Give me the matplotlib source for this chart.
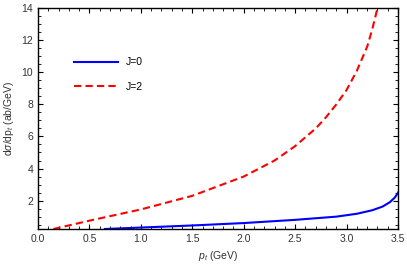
import numpy as np
import matplotlib.pyplot as plt
from matplotlib.ticker import MultipleLocator

plt.rcParams['font.family'] = ['Liberation Sans', 'DejaVu Sans']
plt.rcParams['mathtext.fontset'] = 'custom'
plt.rcParams['mathtext.it'] = 'Liberation Sans:italic'
plt.rcParams['mathtext.rm'] = 'Liberation Sans'

# J=0
pt_j0 = [0.65, 1.0, 1.5, 2.0, 2.5, 2.9, 3.1, 3.25, 3.35, 3.42, 3.47, 3.5]
ds_j0 = [0.23, 0.32, 0.45, 0.6, 0.8, 1.0, 1.18, 1.4, 1.63, 1.9, 2.2, 2.5]

# J=2
pt_j2 = [0.15, 0.5, 1.0, 1.5, 2.0, 2.3, 2.5, 2.7, 2.8, 2.9, 3.0, 3.1, 3.2, 3.25, 3.3]
ds_j2 = [0.23, 0.75, 1.45, 2.3, 3.5, 4.5, 5.4, 6.5, 7.2, 8.0, 8.9, 10.1, 11.6, 12.7, 14.0]

fig = plt.figure(figsize=(4.07, 2.71), dpi=100)
ax = fig.add_axes([0.0934, 0.155, 0.8846, 0.815])

ax.plot(pt_j0, ds_j0, color='#0000ff', lw=1.5, label='J=0')
ax.plot(pt_j2, ds_j2, color='#ff0000', lw=1.5, ls=(0, (3.5, 2)), label='J=2')

ax.set_xlim(0, 3.5)
ax.set_ylim(0.23, 14)
ax.xaxis.set_major_locator(MultipleLocator(0.5))
ax.xaxis.set_minor_locator(MultipleLocator(0.1))
ax.set_yticks([2, 4, 6, 8, 10, 12, 14])
ax.yaxis.set_minor_locator(MultipleLocator(0.5))
ax.tick_params(which='both', direction='in', top=True, right=True, labelsize=7.5, colors='black', labelcolor='#333333')
ax.tick_params(which='major', length=3.5, width=0.8)
ax.tick_params(which='minor', length=2, width=0.6)
ax.xaxis.set_major_formatter(plt.FuncFormatter(lambda v, p: f'{v:.1f}'))
for s in ax.spines.values():
    s.set_linewidth(1.0)

ax.set_xlabel('$p_t$ (GeV)', fontsize=7.5, color='#333333')
ax.set_ylabel(r'd$\sigma$/dp$_t$ (ab/GeV)', fontsize=7.5, color='#333333')

ax.legend(loc='upper left', bbox_to_anchor=(0.074, 0.82), frameon=False, fontsize=7.5,
          handlelength=4.2, labelspacing=1.4)

fig.savefig('out.png', dpi=100)
